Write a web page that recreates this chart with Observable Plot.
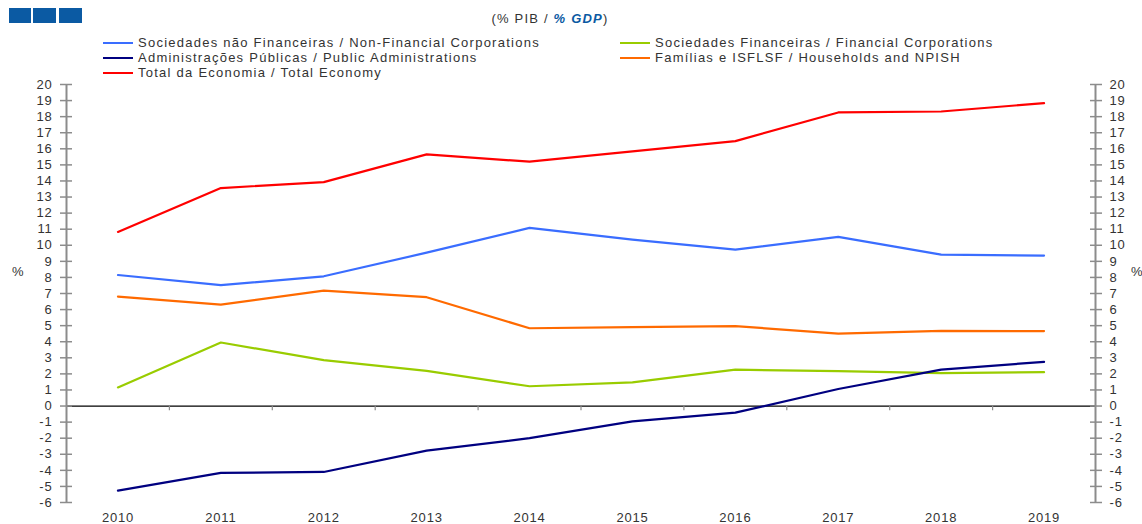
<!DOCTYPE html>
<html>
<head>
<meta charset="utf-8">
<script src="https://cdn.jsdelivr.net/npm/d3@7"></script>
<script src="https://cdn.jsdelivr.net/npm/@observablehq/plot@0.6"></script>
<style>
  html, body { margin: 0; padding: 0; background: #fff; }
  #wrap { position: relative; width: 1142px; height: 524px; overflow: hidden; font-family: "Liberation Sans", Arial, sans-serif; }
  #wrap svg { position: absolute; left: 0; top: 0; }
  .logo { position: absolute; top: 8px; height: 15px; background: #0b5aa3; }
  #subtitle { position: absolute; top: 11px; left: 0; width: 1100px; text-align: center; font-size: 13px; color: #333; letter-spacing: 1.2px; }
  #subtitle b { color: #0b5aa3; font-style: italic; }
  .leg { position: absolute; font-size: 13px; color: #333; letter-spacing: 1.25px; white-space: nowrap; line-height: 15px; }
  .leg i { display: inline-block; width: 30px; height: 2px; vertical-align: middle; margin-right: 5px; position: relative; top: -1px; }
  .pct { position: absolute; font-size: 13px; color: #333; top: 264px; }
</style>
</head>
<body>
<div id="wrap">
  <div class="logo" style="left:9px;width:22px"></div>
  <div class="logo" style="left:33px;width:23px"></div>
  <div class="logo" style="left:59px;width:23px"></div>
  <div id="subtitle">(% PIB / <b>% GDP</b>)</div>
  <div id="legend"></div>
  <div class="pct" style="left:12px">%</div>
  <div class="pct" style="left:1131px">%</div>
</div>
<script>
const years = [2010, 2011, 2012, 2013, 2014, 2015, 2016, 2017, 2018, 2019];
const seriesNames = [
  "Sociedades não Financeiras / Non-Financial Corporations",
  "Sociedades Financeiras / Financial Corporations",
  "Administrações Públicas / Public Administrations",
  "Famílias e ISFLSF / Households and NPISH",
  "Total da Economia / Total Economy"
];
const nonFinancial = [8.15, 7.52, 8.07, 9.54, 11.08, 10.35, 9.73, 10.52, 9.42, 9.36];
const financial    = [1.16, 3.95, 2.86, 2.19, 1.23, 1.47, 2.26, 2.17, 2.05, 2.11];
const publicAdmin  = [-5.26, -4.16, -4.10, -2.77, -2.0, -0.95, -0.41, 1.06, 2.26, 2.75];
const households   = [6.81, 6.31, 7.18, 6.77, 4.84, 4.91, 4.97, 4.51, 4.68, 4.66];
const total        = [10.83, 13.56, 13.93, 15.65, 15.2, 15.84, 16.48, 18.26, 18.32, 18.84];
const colors = ["#3a6dff", "#99cc00", "#000080", "#ff6a00", "#ff0000"];
const yTicks = d3.range(-6, 21);

const allSeries = [nonFinancial, financial, publicAdmin, households, total];
const data = allSeries.flatMap((vals, i) => vals.map((v, j) => ({year: years[j], value: v, series: seriesNames[i]})));
const boundaries = years.slice(0, -1).map(y => y + 0.5);
const xMin = years[0] - 0.5, xMax = years[years.length - 1] + 0.5;

// legend (HTML)
const legend = document.getElementById("legend");
const legPos = [[103, 35], [620, 35], [103, 50], [620, 50], [103, 65]];
seriesNames.forEach((name, i) => {
  const d = document.createElement("div");
  d.className = "leg";
  d.style.left = legPos[i][0] + "px";
  d.style.top = legPos[i][1] + "px";
  d.innerHTML = `<i style="background:${colors[i]}"></i>${name}`;
  legend.appendChild(d);
});

const axisColor = "#8c8c8c";
const chart = Plot.plot({
  width: 1142,
  height: 524,
  marginTop: 84,
  marginBottom: 22,
  marginLeft: 66,
  marginRight: 47,
  style: {fontFamily: "Liberation Sans, Arial, sans-serif", fontSize: "13px", color: "#333", background: "transparent", letterSpacing: "0.8px"},
  x: {domain: [xMin, xMax], axis: null},
  y: {domain: [-6, 20], axis: null},
  color: {domain: seriesNames, range: colors},
  marks: [
    Plot.ruleY([0], {x1: xMin, x2: xMax, stroke: "#000", strokeWidth: 1.2}),
    Plot.ruleX(boundaries, {x: d => d, y1: 0, y2: -0.3, stroke: axisColor, strokeWidth: 1.2}),
    Plot.ruleX([xMin, xMax], {y1: -6, y2: 20, stroke: axisColor, strokeWidth: 2}),
    Plot.axisY({anchor: "left", ticks: yTicks, tickSize: 12, dx: 6, tickPadding: 8, tickFormat: d => String(d), stroke: axisColor, strokeWidth: 1.5, fill: "#333", fontSize: 13, label: null}),
    Plot.axisY({anchor: "right", ticks: yTicks, tickSize: 12, dx: -6, tickPadding: 8, tickFormat: d => String(d), stroke: axisColor, strokeWidth: 1.5, fill: "#333", fontSize: 13, label: null}),
    Plot.axisX({ticks: years, tickSize: 0, tickPadding: 10, tickFormat: d => String(d), fill: "#333", fontSize: 13, label: null}),
    Plot.line(data, {x: "year", y: "value", stroke: "series", strokeWidth: 2.2, z: "series"})
  ]
});
document.getElementById("wrap").prepend(chart);
</script>
</body>
</html>
